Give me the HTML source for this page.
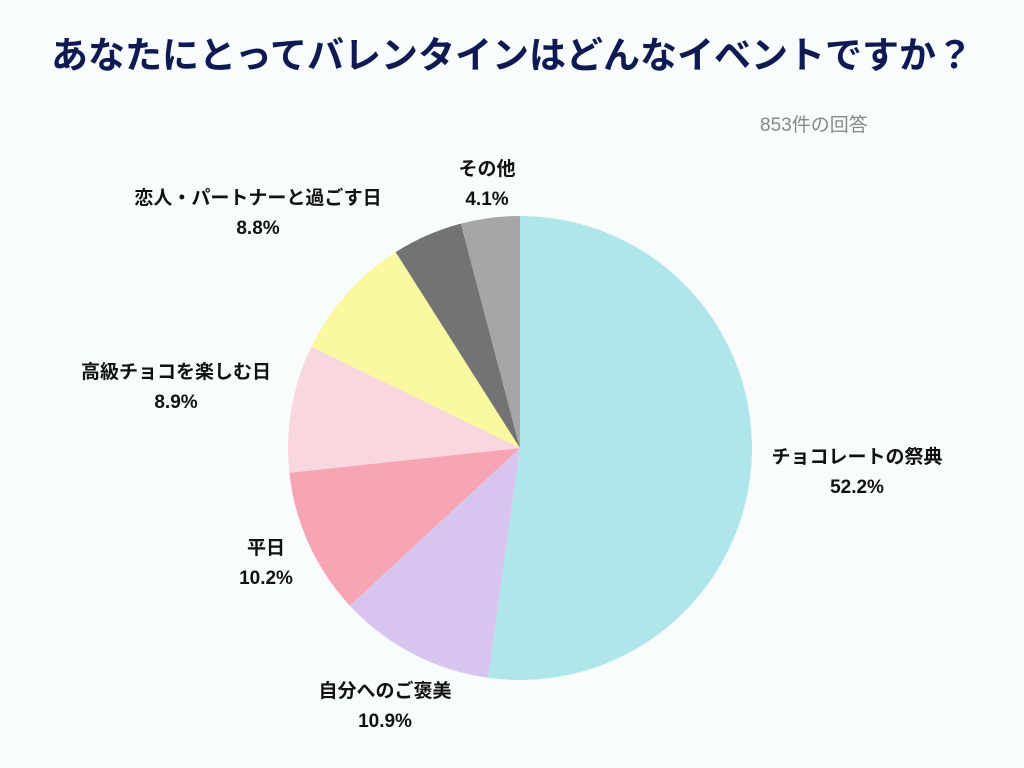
<!DOCTYPE html>
<html><head><meta charset="utf-8">
<style>
html,body{margin:0;padding:0;background:#f8fcfc;}
body{width:1024px;height:768px;position:relative;overflow:hidden;font-family:"Liberation Sans","Noto Sans CJK JP",sans-serif;}
#title{position:absolute;left:0;top:25px;width:1024px;text-align:center;font-size:37px;font-weight:bold;color:#0f1a52;white-space:nowrap;}
#sub{position:absolute;left:760px;top:110px;font-size:19px;color:#888;}
svg{position:absolute;left:0;top:0;}
</style></head><body>
<div id="title">あなたにとってバレンタインはどんなイベントですか？</div>
<div id="sub">853件の回答</div>
<svg id="chart" width="1024" height="768"></svg>
<script>
const categories=["チョコレートの祭典","自分へのご褒美","平日","高級チョコを楽しむ日","恋人・パートナーと過ごす日","","その他"];
const values=[52.2,10.9,10.2,8.9,8.8,4.9,4.1];
const labels=["52.2%","10.9%","10.2%","8.9%","8.8%","","4.1%"];
const colors=["#aee6ea","#d8c5ef","#f7a5b5","#f9d7de","#faf99f","#737373","#a6a6a6"];
const labelPos=[[857,456],[385,690],[266,547],[176,371],[258,197],null,[487,168]];
const cx=520,cy=448,r=232;
const svg=document.getElementById('chart');
const NS="http://www.w3.org/2000/svg";
const total=values.reduce((a,b)=>a+b,0);
let a0=0;
function pt(a,rr){return [cx+rr*Math.sin(a),cy-rr*Math.cos(a)];}
values.forEach((v,i)=>{
  const a1=a0+v/total*2*Math.PI;
  const p0=pt(a0,r),p1=pt(a1,r);
  const large=(a1-a0)>Math.PI?1:0;
  const path=document.createElementNS(NS,'path');
  path.setAttribute('d',`M${cx},${cy}L${p0[0]},${p0[1]}A${r},${r} 0 ${large} 1 ${p1[0]},${p1[1]}Z`);
  path.setAttribute('fill',colors[i]);
  
  
  svg.appendChild(path);
  if(categories[i]&&labelPos[i]){
    const [lx,ly]=labelPos[i];
    const t=document.createElementNS(NS,'text');
    t.setAttribute('x',lx);t.setAttribute('y',ly+7);
    t.setAttribute('text-anchor','middle');
    t.setAttribute('font-size','19');t.setAttribute('font-weight','bold');t.setAttribute('fill','#111');
    t.textContent=categories[i];
    
    
    svg.appendChild(t);
    const t2=document.createElementNS(NS,'text');
    t2.setAttribute('x',lx);t2.setAttribute('y',ly+37);
    t2.setAttribute('text-anchor','middle');
    t2.setAttribute('font-size','19');t2.setAttribute('font-weight','bold');t2.setAttribute('fill','#111');
    t2.textContent=labels[i];
    
    
    svg.appendChild(t2);
  }
  a0=a1;
});
</script>
</body></html>
